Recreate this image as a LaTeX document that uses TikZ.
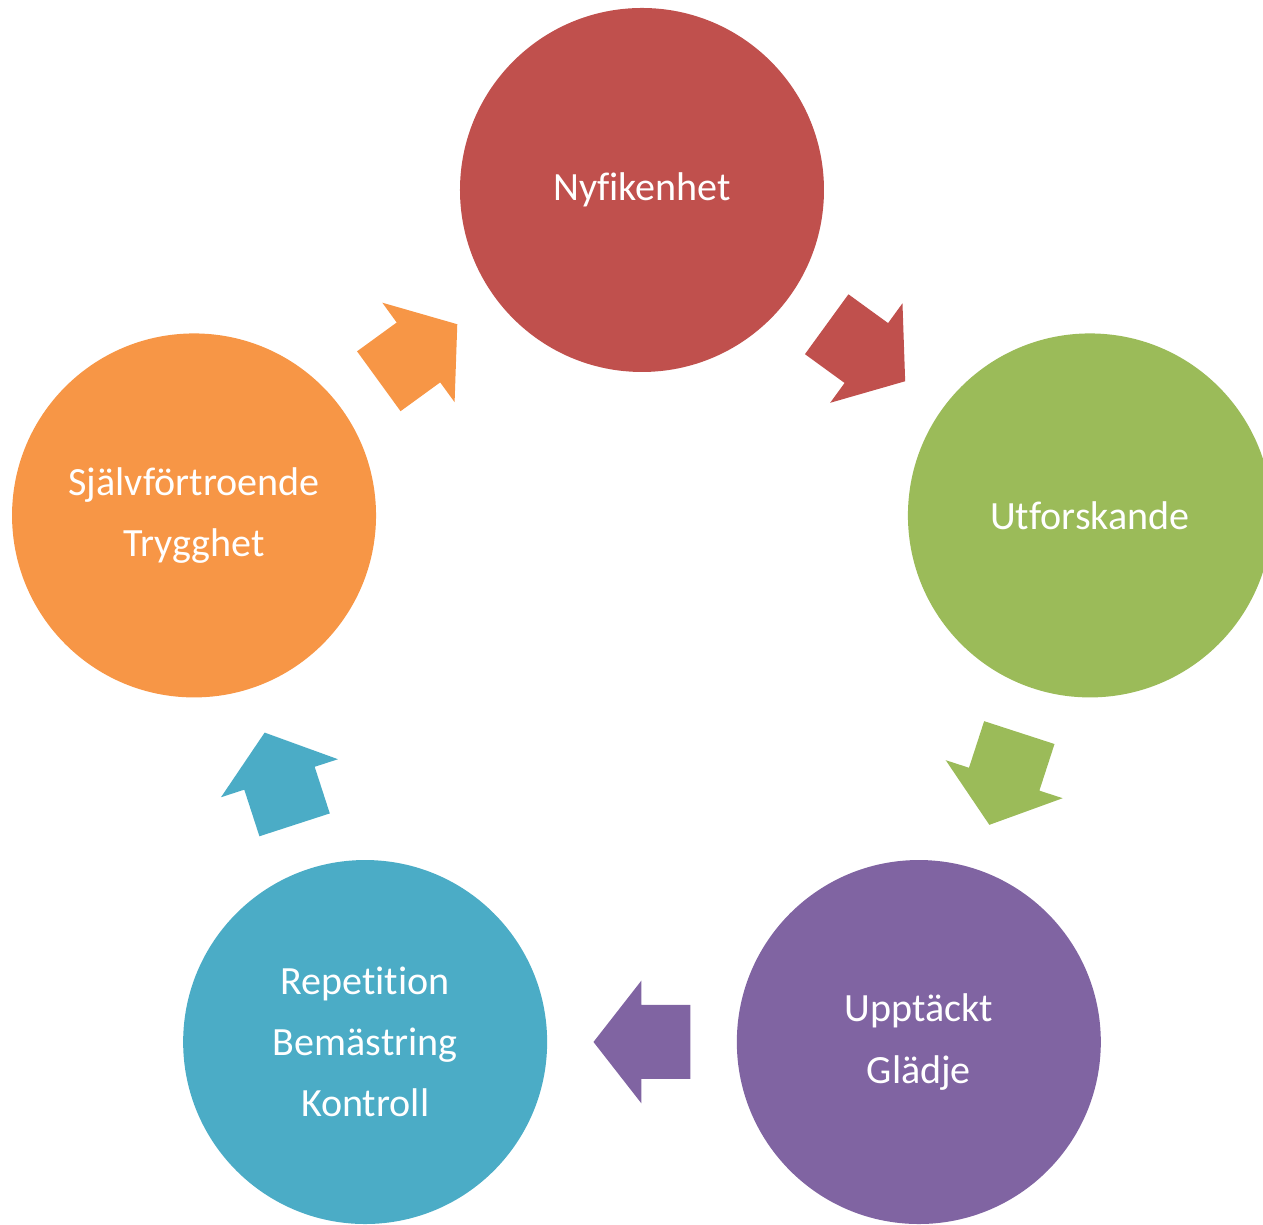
\documentclass[tikz,border=0pt]{standalone}
\usepackage{fontspec}
\setmainfont{Carlito}[Ligatures=NoCommon]

\definecolor{nyfc}{HTML}{C0504D}
\definecolor{utfc}{HTML}{9BBB59}
\definecolor{uppc}{HTML}{8064A2}
\definecolor{repc}{HTML}{4BACC6}
\definecolor{sjfc}{HTML}{F79646}

\tikzset{
  circ/.style={circle, minimum size=3.64cm, inner sep=0pt, align=center,
    text=white, font=\fontsize{11.4}{17.4}\selectfont},
  pics/cyclearrow/.style={code={
    \fill (-0.485,-0.37) -- (0.005,-0.37) -- (0.005,-0.615) -- (0.485,0)
      -- (0.005,0.615) -- (0.005,0.37) -- (-0.485,0.37) -- cycle;
  }}
}

\begin{document}
\begin{tikzpicture}

\useasboundingbox (-6.42,-5.64) rectangle (6.21,6.61);
\clip (-6.42,-5.64) rectangle (6.21,6.61);
\coordinate (o) at (0,0);

% the five steps
\node[circ, fill=nyfc] (nyf) at (90:4.71) {Nyfikenhet};
\node[circ, fill=utfc] (utf) at (18:4.71) {Utforskande};
\node[circ, fill=uppc] (upp) at (-54:4.71) {Uppt\"ackt\\Gl\"adje};
\node[circ, fill=repc] (rep) at (-126:4.71) {Repetition\\Bem\"astring\\Kontroll};
\node[circ, fill=sjfc] (sjf) at (162:4.71) {Sj\"alvf\"ortroende\\Trygghet};

% arrows between them
\pic[nyfc, rotate=-36] at (54:3.81) {cyclearrow};
\pic[utfc, rotate=-108] at (-18:3.81) {cyclearrow};
\pic[uppc, rotate=180] at (-90:3.81) {cyclearrow};
\pic[repc, rotate=108] at (198:3.81) {cyclearrow};
\pic[sjfc, rotate=36] at (126:3.81) {cyclearrow};

\end{tikzpicture}
\end{document}
